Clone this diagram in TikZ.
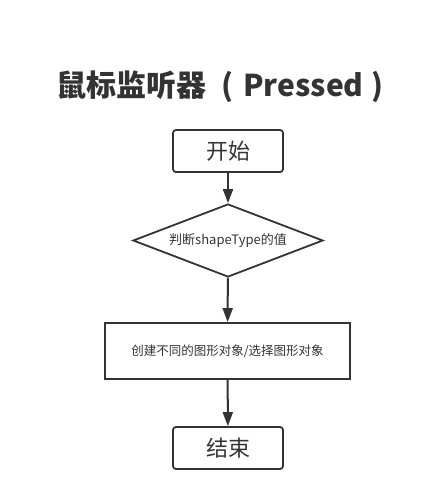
\documentclass[tikz,border=0pt]{standalone}
\usepackage{fontspec}
\setmainfont{Noto Sans CJK SC}
\usetikzlibrary{shapes.geometric,arrows.meta}
\definecolor{ink}{HTML}{333333}
\begin{document}
\begin{tikzpicture}[x=1pt,y=-1pt,
  box/.style={draw=ink,line width=1.8pt,text=ink,inner sep=0pt},
  term/.style={box,rounded corners=3pt,minimum width=110pt,minimum height=42pt,font=\fontsize{22}{24}\selectfont},
  proc/.style={box,minimum width=245pt,minimum height=56pt,font=\fontsize{12.5}{14}\selectfont},
  dec/.style={box,diamond,aspect=2.6,minimum width=190pt,minimum height=73pt,font=\fontsize{13}{15}\selectfont},
  arr/.style={draw=ink,line width=2pt,-{Triangle[length=14pt,width=10pt]}}]
\useasboundingbox (0,0) rectangle (440,501);
\node[text=ink,font=\fontsize{30}{34}\bfseries\selectfont] (title) at (220,87) {鼠标监听器\hspace{15pt}(\hspace{10pt}Pressed\hspace{8pt})};
\node[term] (start) at (228,151) {开始};
\node[dec] (d) at (228,240.5) {判断shapeType的值};
\node[proc] (p) at (227.5,351) {创建不同的图形对象/选择图形对象};
\node[term] (end) at (228,448) {结束};
\draw[arr] (start) -- (d);
\draw[arr] (d) -- (p);
\draw[arr] (p) -- (end);
\end{tikzpicture}
\end{document}
